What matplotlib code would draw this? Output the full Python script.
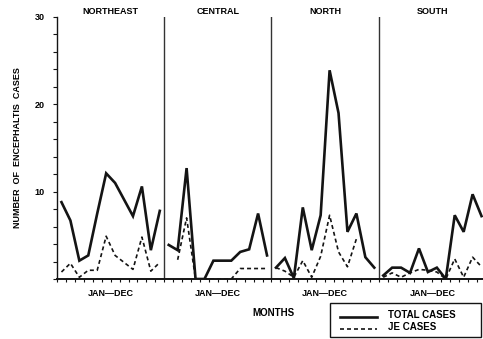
import numpy as np
import matplotlib
matplotlib.use("Agg")
import matplotlib.pyplot as plt
from matplotlib.lines import Line2D
from matplotlib.patches import Rectangle

plt.rcParams['font.family'] = ['Liberation Sans', 'DejaVu Sans']
plt.rcParams['font.weight'] = 'bold'

regions = ['NORTHEAST', 'CENTRAL', 'NORTH', 'SOUTH']
month_label = 'JAN\u2014DEC'
nan = np.nan

# monthly counts, Jan..Dec
total_northeast = [8.8, 6.7, 2.1, 2.7, 7.5, 12.1, 11.0, 9.1, 7.2, 10.6, 3.3, 7.8]
je_northeast = [0.8, 1.8, 0.2, 1.0, 1.0, 4.9, 2.7, 1.9, 1.1, 4.8, 0.9, 1.9]
total_central = [3.9, 3.3, 12.7, 0.0, 0.0, 2.1, 2.1, 2.1, 3.1, 3.4, 7.5, 2.7]
je_central = [nan, 2.2, 7.0, 0.0, 0.0, 0.0, 0.0, 0.0, 1.2, 1.2, 1.2, 1.2]
total_north = [1.3, 2.4, 0.1, 8.2, 3.3, 7.3, 23.9, 19.0, 5.4, 7.5, 2.5, 1.3]
je_north = [1.3, 0.9, 0.2, 2.1, 0.2, 2.6, 7.3, 3.1, 1.4, 4.6, nan, nan]
total_south = [0.4, 1.3, 1.3, 0.7, 3.5, 0.8, 1.3, 0.0, 7.3, 5.4, 9.7, 7.2]
je_south = [0.2, 0.7, 0.2, 0.7, 1.1, 1.0, 0.8, 0.0, 2.3, 0.2, 2.5, 1.4]

totals = [total_northeast, total_central, total_north, total_south]
jes = [je_northeast, je_central, je_north, je_south]

W, H = 483, 339
fig = plt.figure(figsize=(W / 100, H / 100), dpi=100)
# axes in pixel terms: left 57, right ~486 (cut off), top 17, bottom 279
ax = fig.add_axes([57 / W, 1 - 279 / H, 429 / W, 262 / H])
ink = '#141414'

for p in range(4):
    x = 12 * p + np.arange(12) + 0.5
    ax.plot(x, totals[p], color=ink, lw=1.9, solid_joinstyle='miter')
    ax.plot(x, jes[p], color=ink, lw=1.2, linestyle=(0, (2.4, 1.8)))
    ax.text(12 * p + 6, 30.6, regions[p], ha='center', va='center',
            fontsize=6.5, weight='bold')
    ax.text(12 * p + 6, -0.055, month_label, transform=ax.get_xaxis_transform(),
            ha='center', va='center', fontsize=6.5, weight='bold')
    if p > 0:
        ax.axvline(12 * p, color='#333333', lw=1.0)

ax.set_xlim(0, 48)
ax.set_ylim(0, 30)
for s in ['top', 'right']:
    ax.spines[s].set_visible(False)
ax.spines['left'].set_linewidth(1.0)
ax.spines['bottom'].set_linewidth(1.4)
ax.spines['left'].set_color(ink)
ax.spines['bottom'].set_color(ink)

ax.set_xticks(np.arange(0, 49))
ax.set_xticklabels([])
ax.tick_params(axis='x', direction='out', length=2.2, width=0.8, color=ink)
yt = np.arange(0, 31, 2)
ax.set_yticks(yt)
ax.set_yticklabels(['10' if v == 10 else '20' if v == 20 else '30' if v == 30 else '' for v in yt],
                   fontsize=6.5, weight='bold')
ax.tick_params(axis='y', direction='out', length=3, width=0.8, color=ink, pad=6)

fig.text(18 / W, 1 - 148 / H, 'NUMBER  OF  ENCEPHALTIS  CASES', rotation=90,
         ha='center', va='center', fontsize=6.5, weight='bold')
fig.text(273 / W, 1 - 313 / H, 'MONTHS', ha='center', va='center',
         fontsize=7, weight='bold')

# legend box
fig.add_artist(Rectangle((330 / W, 1 - 337 / H), 151 / W, 34 / H,
                         transform=fig.transFigure, fill=False, ec=ink, lw=1.0))
fig.add_artist(Line2D([340 / W, 377 / W], [1 - 317 / H] * 2, color=ink, lw=1.9,
                      transform=fig.transFigure))
fig.add_artist(Line2D([340 / W, 377 / W], [1 - 329 / H] * 2, color=ink, lw=1.2,
                      linestyle=(0, (2.4, 1.8)), transform=fig.transFigure))
fig.text(388 / W, 1 - 315 / H, 'TOTAL CASES', ha='left', va='center',
         fontsize=7, weight='bold')
fig.text(388 / W, 1 - 327 / H, 'JE CASES', ha='left', va='center',
         fontsize=7, weight='bold')

fig.savefig('out.png', dpi=100)
